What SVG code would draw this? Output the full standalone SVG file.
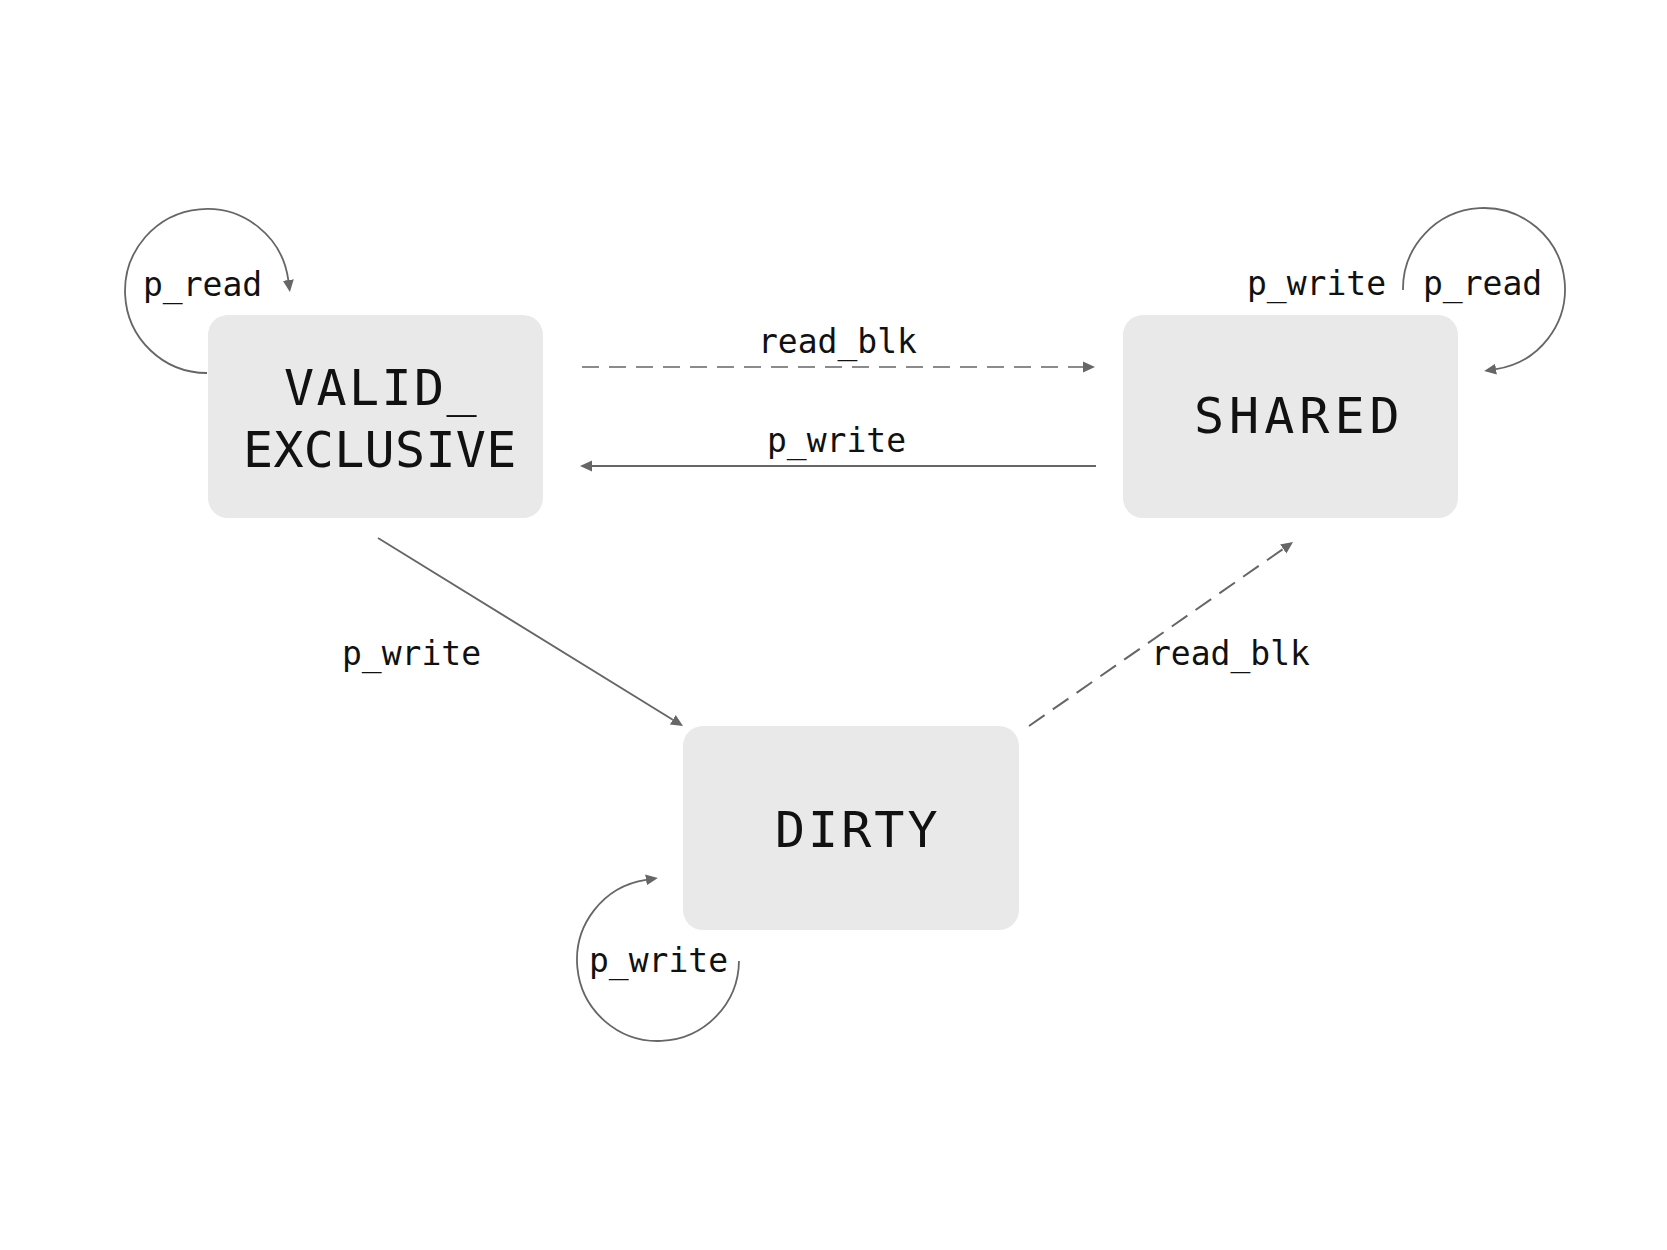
<svg xmlns="http://www.w3.org/2000/svg" width="1667" height="1250" viewBox="0 0 1667 1250">
<style>
.node{fill:#e9e9e9}
.nt{font-family:"DejaVu Sans Mono","Liberation Mono",monospace;font-size:50px;fill:#111}
.lb{font-family:"DejaVu Sans Mono","Liberation Mono",monospace;font-size:33px;fill:#111}
.c{fill:none;stroke:#666;stroke-width:1.8}
.d1{stroke-dasharray:17 10;stroke-width:1.5}
.d2{stroke-dasharray:19 10;stroke-width:2}
</style>
<defs>
<marker id="ah" markerUnits="userSpaceOnUse" markerWidth="14" markerHeight="14" viewBox="0 -7 14 14" refX="0" refY="0" orient="auto">
<path d="M0,-5.5 L12,0 L0,5.5 z" fill="#666"/>
</marker>
</defs>
<rect width="1667" height="1250" fill="#fff"/>
<g id="valid_exclusive">
<rect class="node" x="208" y="315" width="335" height="203" rx="20"/>
<text class="nt" x="284" y="405" letter-spacing="2.4">VALID_</text>
<text class="nt" x="243" y="467" letter-spacing="0.3">EXCLUSIVE</text>
</g>
<g id="shared">
<rect class="node" x="1123" y="315" width="335" height="203" rx="20"/>
<text class="nt" x="1194" y="433" letter-spacing="5">SHARED</text>
</g>
<g id="dirty">
<rect class="node" x="683" y="726" width="336" height="204" rx="20"/>
<text class="nt" x="775" y="847" letter-spacing="3">DIRTY</text>
</g>
<g id="connectors">
<path class="c d1" d="M582,367 L1083,367" marker-end="url(#ah)"/>
<path class="c" d="M1096,466 L592,466" marker-end="url(#ah)"/>
<path class="c" d="M378,538 L672.8,719.7" marker-end="url(#ah)"/>
<path class="c d2" d="M1029,726 L1283.2,548.9" marker-end="url(#ah)"/>
<path class="c" d="M207,373 A82,82 0 1 1 288.3,280" marker-end="url(#ah)"/>
<path class="c" d="M1403,290 A81,81 0 1 1 1496,369.1" marker-end="url(#ah)"/>
<path class="c" d="M739,961 A81,81 0 1 1 646,879.9" marker-end="url(#ah)"/>
</g>
<g id="labels">
<text class="lb" x="143" y="296">p_read</text>
<text class="lb" x="1247" y="295">p_write</text>
<text class="lb" x="1423" y="295">p_read</text>
<text class="lb" x="758" y="353">read_blk</text>
<text class="lb" x="767" y="452">p_write</text>
<text class="lb" x="342" y="665">p_write</text>
<text class="lb" x="1151" y="665">read_blk</text>
<text class="lb" x="589" y="972">p_write</text>
</g>
</svg>
